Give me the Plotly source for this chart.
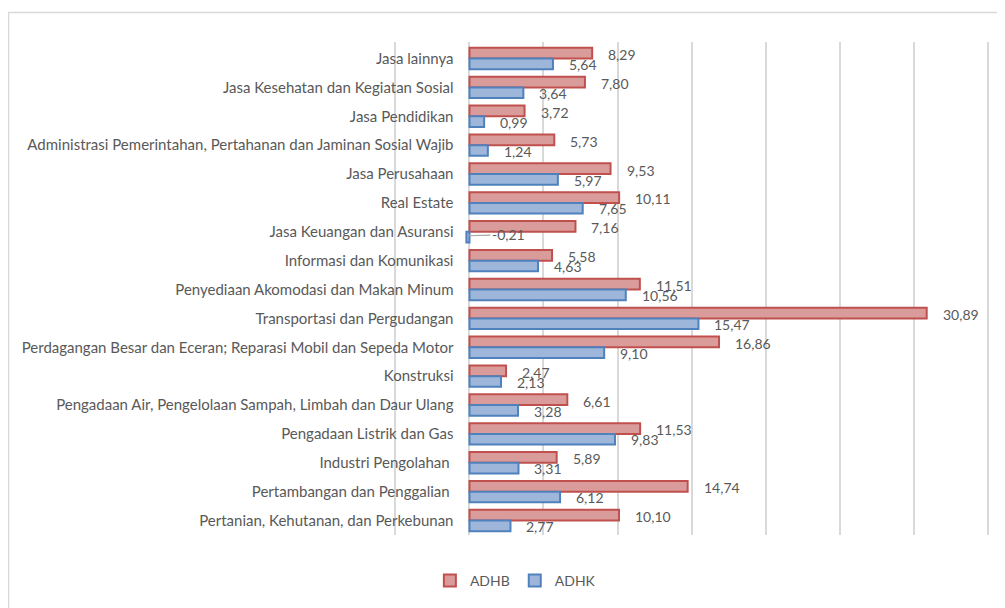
import plotly.graph_objects as go

categories = [
    "Jasa lainnya",
    "Jasa Kesehatan dan Kegiatan Sosial",
    "Jasa Pendidikan",
    "Administrasi Pemerintahan, Pertahanan dan Jaminan Sosial Wajib",
    "Jasa Perusahaan",
    "Real Estate",
    "Jasa Keuangan dan Asuransi",
    "Informasi dan Komunikasi",
    "Penyediaan Akomodasi dan Makan Minum",
    "Transportasi dan Pergudangan",
    "Perdagangan Besar dan Eceran; Reparasi Mobil dan Sepeda Motor",
    "Konstruksi",
    "Pengadaan Air, Pengelolaan Sampah, Limbah dan Daur Ulang",
    "Pengadaan Listrik dan Gas",
    "Industri Pengolahan ",
    "Pertambangan dan Penggalian ",
    "Pertanian, Kehutanan, dan Perkebunan",
]
adhb = [8.29, 7.80, 3.72, 5.73, 9.53, 10.11, 7.16, 5.58, 11.51, 30.89,
        16.86, 2.47, 6.61, 11.53, 5.89, 14.74, 10.10]
adhk = [5.64, 3.64, 0.99, 1.24, 5.97, 7.65, -0.21, 4.63, 10.56, 15.47,
        9.10, 2.13, 3.28, 9.83, 3.31, 6.12, 2.77]
series_names = ["ADHB", "ADHK"]

GREY = "#595959"
FONT = "Lato"

# figure is drawn at an 8px page offset (body margin), so size is reduced
W, H = 997, 600
L, R, T, B = 386, 16, 34, 73
PW, PH = W - L - R, H - T - B
XMIN, XMAX = -5.1, 35.1


def fmt(v):
    return f"{v:.2f}".replace(".", ",")


fig = go.Figure()
fig.add_trace(go.Bar(
    name=series_names[0], y=categories, x=adhb, orientation="h",
    marker=dict(color="#DA9C9B", line=dict(color="#C0504D", width=2)),
))
fig.add_trace(go.Bar(
    name=series_names[1], y=categories, x=adhk, orientation="h",
    marker=dict(color="#9DB6DA", line=dict(color="#4F81BD", width=2)),
))

annotations = []
for series, yshift in ((adhb, 4), (adhk, -6)):
    for cat, v in zip(categories, series):
        if v >= 0:
            annotations.append(dict(
                x=v, y=cat, xref="x", yref="y", text=fmt(v), showarrow=False,
                xanchor="left", yanchor="middle", xshift=14, yshift=yshift,
                font=dict(family=FONT, size=14, color=GREY),
            ))
        else:
            annotations.append(dict(
                x=v, y=cat, xref="x", yref="y", text=fmt(v), showarrow=True,
                arrowhead=0, arrowwidth=1.2, arrowcolor="#A6A6A6",
                ax=42, ay=-1, yshift=yshift + 2, standoff=1,
                font=dict(family=FONT, size=14, color=GREY),
            ))

fig.update_layout(
    width=W, height=H,
    margin=dict(l=L, r=R, t=T, b=B, autoexpand=False),
    paper_bgcolor="white", plot_bgcolor="white",
    barmode="group", bargap=0.26, bargroupgap=0,
    font=dict(family=FONT, color=GREY, size=14),
    xaxis=dict(range=[XMIN, XMAX], dtick=5, tick0=0, showgrid=True,
               gridcolor="#D9D9D9", gridwidth=2, zeroline=True,
               zerolinecolor="#D9D9D9", zerolinewidth=2,
               showticklabels=False, showline=False, fixedrange=True,
               automargin=False),
    yaxis=dict(autorange="reversed", anchor="free",
               position=(0 - XMIN) / (XMAX - XMIN),
               showgrid=False, showline=False, ticks="", ticklabelstandoff=16,
               automargin=False,
               tickfont=dict(family=FONT, size=15, color=GREY)),
    legend=dict(orientation="h", x=0.204, xanchor="center", y=-0.093,
                yanchor="middle", itemwidth=30,
                font=dict(family=FONT, size=14, color=GREY)),
    annotations=annotations,
    shapes=[dict(type="rect", xref="paper", yref="paper",
                 x0=(0.5 - L) / PW, x1=1.3, y0=-0.4, y1=(PH + T - 4.5) / PH,
                 line=dict(color="#D9D9D9", width=1.5), fillcolor="rgba(0,0,0,0)",
                 layer="below")],
)

fig.write_html("out.html")
